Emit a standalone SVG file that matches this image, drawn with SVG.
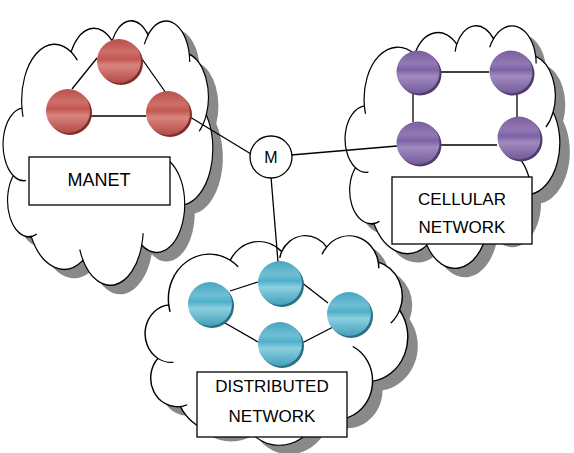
<svg xmlns="http://www.w3.org/2000/svg" width="574" height="453" viewBox="0 0 574 453">
<style>
.cloud{fill:#fff;stroke:#000}
.tail{fill:none;stroke:#000}
.shadow{fill:#898989;stroke:none}
.box{fill:#fff;stroke:#000;stroke-width:1.3}
.lbl{font-family:"Liberation Sans",Arial,sans-serif;font-size:17px;fill:#000;text-anchor:middle}
.edge{stroke:#000;stroke-width:1.3;fill:none}
.red{fill:url(#gRed)}
.pur{fill:url(#gPur)}
.blu{fill:url(#gBlu)}
.rs{fill:#7d2f2c}
.ps{fill:#4f3c68}
.bs{fill:#2a6f82}
</style>
<defs>
<linearGradient id="gRed" x1="0" y1="0" x2="0" y2="1">
<stop offset="0" stop-color="#b9504b"/>
<stop offset="0.3" stop-color="#cf6f69"/>
<stop offset="0.45" stop-color="#c2554f"/>
<stop offset="0.6" stop-color="#d8857f"/>
<stop offset="1" stop-color="#b64a45"/>
</linearGradient>
<linearGradient id="gPur" x1="0" y1="0" x2="0" y2="1">
<stop offset="0" stop-color="#7a5f9e"/>
<stop offset="0.3" stop-color="#9278b3"/>
<stop offset="0.45" stop-color="#7d62a2"/>
<stop offset="0.6" stop-color="#a08bbf"/>
<stop offset="1" stop-color="#75599a"/>
</linearGradient>
<linearGradient id="gBlu" x1="0" y1="0" x2="0" y2="1">
<stop offset="0" stop-color="#46a6c0"/>
<stop offset="0.3" stop-color="#6fbfd3"/>
<stop offset="0.45" stop-color="#4eafc8"/>
<stop offset="0.6" stop-color="#8ccfe0"/>
<stop offset="1" stop-color="#42a1bb"/>
</linearGradient>
<path id="cloudShape" d="M3900,14370 A6753,9190 0 0 1 14004,5201 A5333,7267 0 0 1 22451,3422 A4365,5945 0 0 1 29834,2482 A4857,6595 0 0 1 38319,5576 A5333,7273 0 0 1 41820,15460 A6775,9220 0 0 1 37384,30096 A5785,7867 0 0 1 28536,36707 A6752,9215 0 0 1 16461,39160 A7720,10543 0 0 1 5803,35294 A4360,5918 0 0 1 2112,25372 A4345,5945 0 0 1 3900,14370 Z"/>
<path id="cloudTails" d="M4693,26177 A4345,5945 0 0 1 2112,25372 M6928,34899 A4360,5918 0 0 1 5070,35328 M16461,39160 A6752,9215 0 0 1 15792,37418 M28827,34751 A6752,9215 0 0 1 28536,36707 M34129,22954 A5785,7867 0 0 1 37384,30096 M41820,15460 A5333,7273 0 0 1 40370,18137 M38319,5576 A4857,6595 0 0 1 38396,6840 M29078,3952 A4857,6595 0 0 1 29834,2482 M22141,4720 A4365,5945 0 0 1 22451,3422 M14004,5201 A6753,9190 0 0 1 15306,6551 M4127,15789 A6753,9190 0 0 1 3900,14370"/>
</defs>
<rect width="574" height="453" fill="#fff"/>

<g id="cloud-manet" style="stroke-width:238">
<use href="#cloudShape" class="shadow" transform="translate(13,29) scale(0.0048611,0.0061343)"/>
<use href="#cloudShape" class="cloud" transform="translate(3,20) scale(0.0048611,0.0061343)"/>
<use href="#cloudTails" class="tail" transform="translate(3,20) scale(0.0048611,0.0061343)"/>
</g>
<g id="cloud-cellular" style="stroke-width:246">
<use href="#cloudShape" class="shadow" transform="translate(355,34) scale(0.0049769,0.005625)"/>
<use href="#cloudShape" class="cloud" transform="translate(345,25) scale(0.0049769,0.005625)"/>
<use href="#cloudTails" class="tail" transform="translate(345,25) scale(0.0049769,0.005625)"/>
</g>
<g id="cloud-distributed" style="stroke-width:239">
<use href="#cloudShape" class="shadow" transform="translate(155,244) scale(0.006088,0.0048611)"/>
<use href="#cloudShape" class="cloud" transform="translate(145,235) scale(0.006088,0.0048611)"/>
<use href="#cloudTails" class="tail" transform="translate(145,235) scale(0.006088,0.0048611)"/>
</g>

<g id="connectors">
<line class="edge" x1="97" y1="58" x2="72" y2="89"/>
<line class="edge" x1="142" y1="59" x2="166" y2="93"/>
<line class="edge" x1="90" y1="116" x2="146" y2="116"/>
<line class="edge" x1="190" y1="117" x2="251" y2="154"/>
<line class="edge" x1="291" y1="155" x2="397" y2="146"/>
<line class="edge" x1="271" y1="177" x2="278" y2="262"/>
<line class="edge" x1="440" y1="72" x2="489" y2="72"/>
<line class="edge" x1="413" y1="93" x2="413" y2="122"/>
<line class="edge" x1="517" y1="93" x2="517" y2="117"/>
<line class="edge" x1="440" y1="145" x2="497" y2="145"/>
<line class="edge" x1="230" y1="291" x2="258" y2="282"/>
<line class="edge" x1="301" y1="282" x2="328" y2="303"/>
<line class="edge" x1="225" y1="323" x2="258" y2="342"/>
<line class="edge" x1="302" y1="343" x2="335" y2="326"/>
</g>

<g id="manet-n1"><circle class="rs" cx="121" cy="63" r="22"/><circle class="red" cx="119" cy="61" r="22"/></g>
<g id="manet-n2"><circle class="rs" cx="70" cy="113" r="22"/><circle class="red" cx="68" cy="111" r="22"/></g>
<g id="manet-n3"><circle class="rs" cx="170" cy="115" r="22"/><circle class="red" cx="168" cy="113" r="22"/></g>

<g id="cell-n1"><circle class="ps" cx="420" cy="74" r="21.5"/><circle class="pur" cx="418" cy="72" r="21.5"/></g>
<g id="cell-n2"><circle class="ps" cx="513" cy="74" r="21.5"/><circle class="pur" cx="511" cy="72" r="21.5"/></g>
<g id="cell-n3"><circle class="ps" cx="420" cy="145" r="21.5"/><circle class="pur" cx="418" cy="143" r="21.5"/></g>
<g id="cell-n4"><circle class="ps" cx="521" cy="140" r="21.5"/><circle class="pur" cx="519" cy="138" r="21.5"/></g>

<g id="dist-n1"><circle class="bs" cx="212" cy="306" r="22"/><circle class="blu" cx="210" cy="304" r="22"/></g>
<g id="dist-n2"><circle class="bs" cx="282" cy="285" r="22"/><circle class="blu" cx="280" cy="283" r="22"/></g>
<g id="dist-n3"><circle class="bs" cx="351" cy="316" r="22"/><circle class="blu" cx="349" cy="314" r="22"/></g>
<g id="dist-n4"><circle class="bs" cx="282" cy="346" r="22"/><circle class="blu" cx="280" cy="344" r="22"/></g>

<g id="hub-m">
<circle cx="271" cy="157" r="21" fill="#fff" stroke="#000" stroke-width="1.3"/>
<text class="lbl" x="271" y="163" style="font-size:16px">M</text>
</g>

<g id="label-manet">
<rect class="box" x="29" y="157" width="141" height="48"/>
<text class="lbl" x="99" y="186" style="font-size:18px">MANET</text>
</g>
<g id="label-cellular">
<rect class="box" x="392" y="177" width="140" height="67"/>
<text class="lbl" x="462" y="205">CELLULAR</text>
<text class="lbl" x="462" y="233">NETWORK</text>
</g>
<g id="label-distributed">
<rect class="box" x="197" y="372" width="150" height="65"/>
<text class="lbl" x="272" y="392">DISTRIBUTED</text>
<text class="lbl" x="272" y="422">NETWORK</text>
</g>
</svg>
